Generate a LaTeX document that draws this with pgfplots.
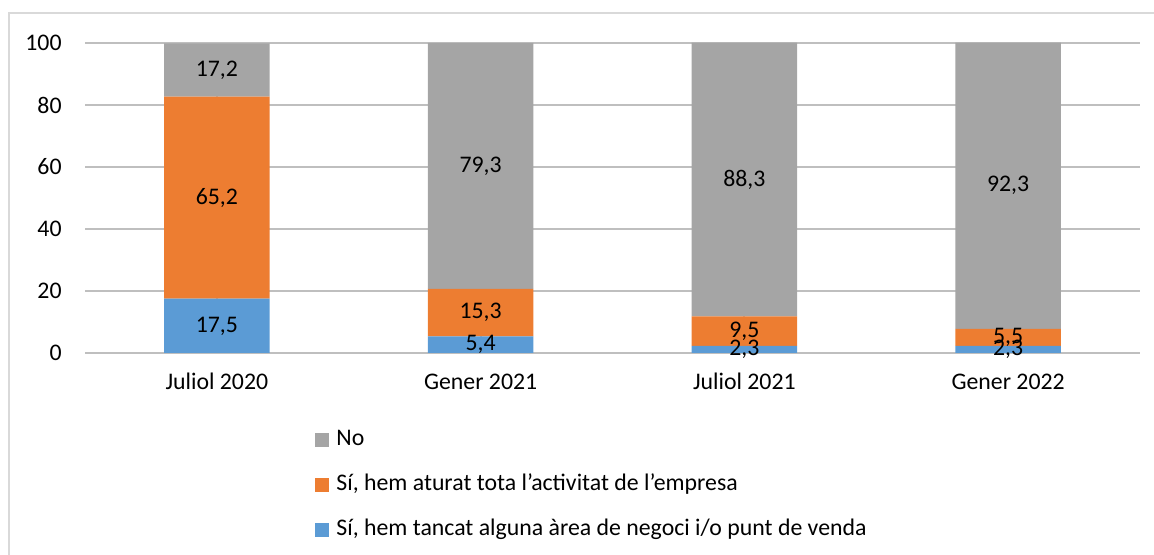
\documentclass[border=0pt]{standalone}
\usepackage{pgfplots}
\pgfplotsset{compat=1.18}
\usepackage{pgfplotstable}
\usepackage{fontspec}
\setmainfont{Carlito}
\definecolor{cgray}{HTML}{A5A5A5}
\definecolor{corange}{HTML}{ED7D31}
\definecolor{cblue}{HTML}{5B9BD5}
\definecolor{grid}{HTML}{D9D9D9}

\pgfplotstableread{
x v
0 17.5
1 5.4
2 2.3
3 2.3
}\tblue
\pgfplotstableread{
x v
0 65.2
1 15.3
2 9.5
3 5.5
}\torange
\pgfplotstableread{
x v
0 17.2
1 79.3
2 88.3
3 92.3
}\tgray

\begin{document}
\begin{tikzpicture}[font=\fontsize{11.9}{14}\selectfont]
\useasboundingbox (0,0) rectangle (577pt,277.5pt);
\draw[grid, line width=1pt] (4.25pt,0) -- (4.25pt,270.85pt) -- (577pt,270.85pt);
\begin{axis}[
  at={(42.5pt,101pt)}, anchor=south west,
  scale only axis, width=527.5pt, height=155.155pt,
  ybar stacked, bar width=0.4,
  xmin=-0.5, xmax=3.5, ymin=0, ymax=100.1,
  xtick=data, xticklabels={Juliol 2020, Gener 2021, Juliol 2021, Gener 2022},
  ytick={0,20,40,60,80,100},
  major tick length=0pt,
  axis line style={draw=none},
  ymajorgrids, grid style={grid, line width=1pt},
  /pgf/number format/assume math mode=true,
  xticklabel style={anchor=base, yshift=-18.5pt},
  yticklabel style={anchor=east, inner sep=0pt, xshift=-11.5pt},
  point meta=explicit,
  nodes near coords={\pgfmathprintnumber[fixed, fixed zerofill, precision=1, use comma]{\pgfplotspointmeta}},
  every node near coord/.append style={anchor=center, font=\fontsize{11.9}{14}\selectfont},
  reverse legend,
  legend cell align=left,
  legend style={at={(0.218,-0.2468)}, anchor=north west, draw=none, fill=none, inner sep=0pt,
    row sep=12.5pt, column sep=3.5pt,
    nodes={text height=8pt, text depth=2pt, inner sep=0pt},
    font=\fontsize{11.9}{14}\selectfont},
  legend image code/.code={\fill[#1] (0pt,-3.5pt) rectangle (7pt,3.5pt);},
]
\addplot[fill=cblue, draw=none] table[x=x, y=v, meta=v] {\tblue};
\addplot[fill=corange, draw=none] table[x=x, y=v, meta=v] {\torange};
\addplot[fill=cgray, draw=none] table[x=x, y=v, meta=v] {\tgray};
\legend{{Sí, hem tancat alguna àrea de negoci i/o punt de venda}, {Sí, hem aturat tota l’activitat de l’empresa}, No}
\end{axis}
\end{tikzpicture}
\end{document}
